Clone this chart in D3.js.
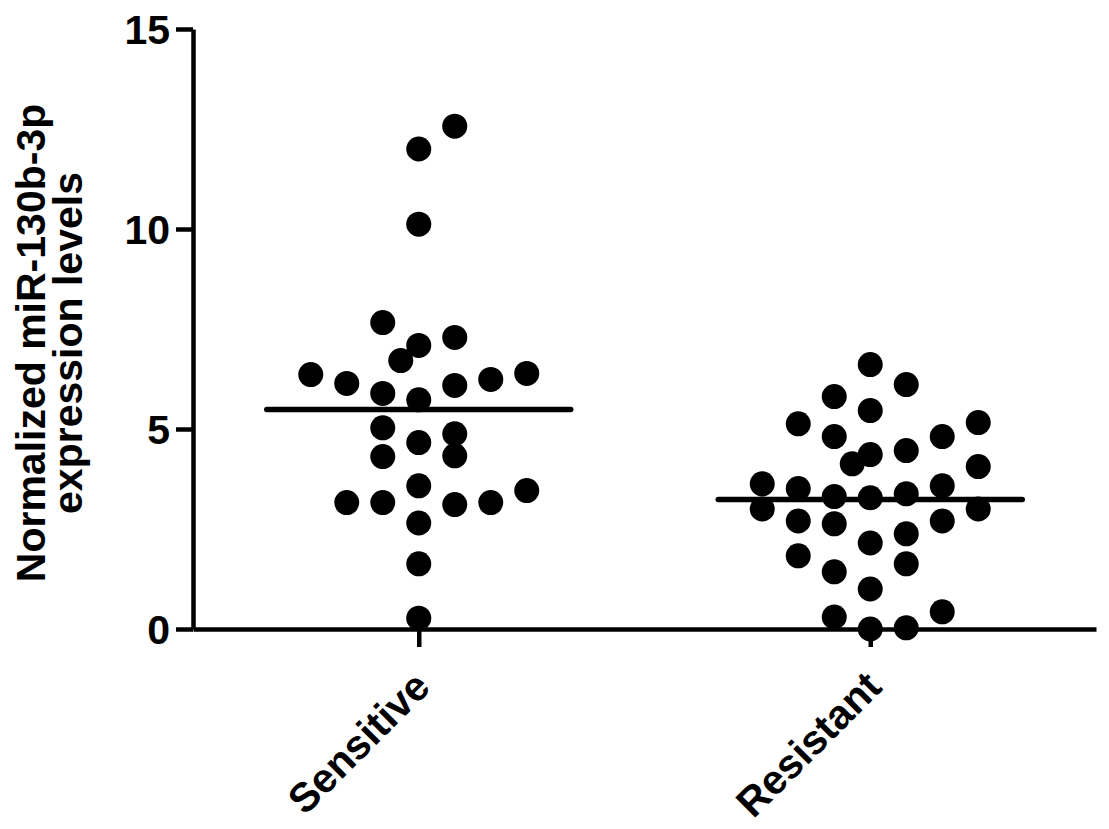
<!DOCTYPE html>
<html>
<head>
<meta charset="utf-8">
<script src="https://d3js.org/d3.v7.min.js"></script>
<style>
  body { margin: 0; background: #fff; }
  svg { font-family: "Liberation Sans", Arial, sans-serif; font-weight: bold; }
</style>
</head>
<body>
<svg width="1109" height="829"></svg>
<script>
var groups = ["Sensitive", "Resistant"];

// values
var sensitiveValues = [12.57, 12.0, 10.12, 7.66, 7.09, 7.29, 6.71, 6.36, 6.14, 5.89, 5.73, 6.09, 6.24, 6.39,
                       5.03, 4.31, 4.66, 4.88, 4.33, 3.58, 3.16, 3.16, 3.11, 3.16, 3.46, 2.65, 1.63, 0.27];
// scatter column of each point (column units, 0 = centre)
var sensitiveCols = [1, 0, 0, -1, 0, 1, -0.5, -3, -2, -1, 0, 1, 2, 3,
                     -1, -1, 0, 1, 1, 0, -2, -1, 1, 2, 3, 0, 0, 0];

var resistantValues = [6.61, 6.11, 5.81, 5.46, 5.13, 5.16, 4.81, 4.81, 4.46, 4.36, 4.13, 4.06, 3.63, 3.51, 3.58,
                       3.38, 3.31, 3.28, 3.0, 3.0, 2.7, 2.63, 2.7, 2.38, 2.15, 1.83, 1.63, 1.43, 1.0, 0.3, 0.43, 0.0, 0.03];
var resistantCols = [0, 1, -1, 0, -2, 3, -1, 2, 1, 0, -0.5, 3, -3, -2, 2,
                     1, -1, 0, -3, 3, -2, -1, 2, 1, 0, -2, 1, -1, 0, -1, 2, 0, 1];

var yTicks = [0, 5, 10, 15];
var yTitle = ["Normalized miR-130b-3p", "expression levels"];

var svg = d3.select("svg"),
    margin = {top: 29, right: 13, bottom: 200, left: 193},
    width = +svg.attr("width") - margin.left - margin.right,
    height = +svg.attr("height") - margin.top - margin.bottom;

var x = d3.scalePoint().domain(groups).range([0, width]).padding(0.5),
    y = d3.scaleLinear().domain([0, 15]).range([height, 0]),
    col = d3.scaleLinear().domain([0, 1]).range([0, 36]);

var g = svg.append("g")
    .attr("transform", "translate(" + margin.left + "," + margin.top + ")");

var data = [
  {key: "Sensitive", values: sensitiveValues, cols: sensitiveCols},
  {key: "Resistant", values: resistantValues, cols: resistantCols}
];

// axes
var yAxis = g.append("g")
    .call(d3.axisLeft(y).tickValues(yTicks).tickSize(17).tickSizeOuter(0).tickPadding(6));

var xAxis = g.append("g")
    .attr("transform", "translate(0," + height + ")")
    .call(d3.axisBottom(x).tickSize(18).tickSizeOuter(0));

[yAxis, xAxis].forEach(function(a) {
  a.select(".domain").attr("stroke", "#000").attr("stroke-width", 4.5);
  a.selectAll(".tick line").attr("stroke", "#000").attr("stroke-width", 4.5);
  a.selectAll(".tick text")
      .attr("fill", "#000")
      .style("font-size", "41px")
      .style("font-weight", "bold")
      .style("font-family", "'Liberation Sans', Arial, sans-serif");
});

yAxis.selectAll(".tick text").attr("dy", "0.36em");

xAxis.selectAll(".tick text")
    .attr("x", 0)
    .attr("y", 0)
    .attr("dy", 0)
    .attr("transform", "translate(13,60) rotate(-45)")
    .style("text-anchor", "end");

// points
var grp = g.selectAll(".group")
  .data(data)
  .enter().append("g")
    .attr("class", "group");

grp.selectAll("circle")
  .data(function(d) {
    return d.values.map(function(v, i) { return {key: d.key, value: v, col: d.cols[i]}; });
  })
  .enter().append("circle")
    .attr("cx", function(d) { return x(d.key) + col(d.col); })
    .attr("cy", function(d) { return y(d.value); })
    .attr("r", 12.5)
    .attr("fill", "#000");

// mean lines
grp.append("line")
    .attr("x1", function(d) { return x(d.key) - 152; })
    .attr("x2", function(d) { return x(d.key) + 152; })
    .attr("y1", function(d) { return y(d3.mean(d.values)); })
    .attr("y2", function(d) { return y(d3.mean(d.values)); })
    .attr("stroke", "#000")
    .attr("stroke-width", 5.5)
    .attr("stroke-linecap", "round");

// y title
svg.selectAll(".ytitle")
  .data(yTitle)
  .enter().append("text")
    .attr("class", "ytitle")
    .attr("transform", function(d, i) { return "translate(" + (45 + i * 37) + ",343) rotate(-90)"; })
    .style("text-anchor", "middle")
    .style("font-size", "41px")
    .text(function(d) { return d; });
</script>
</body>
</html>
